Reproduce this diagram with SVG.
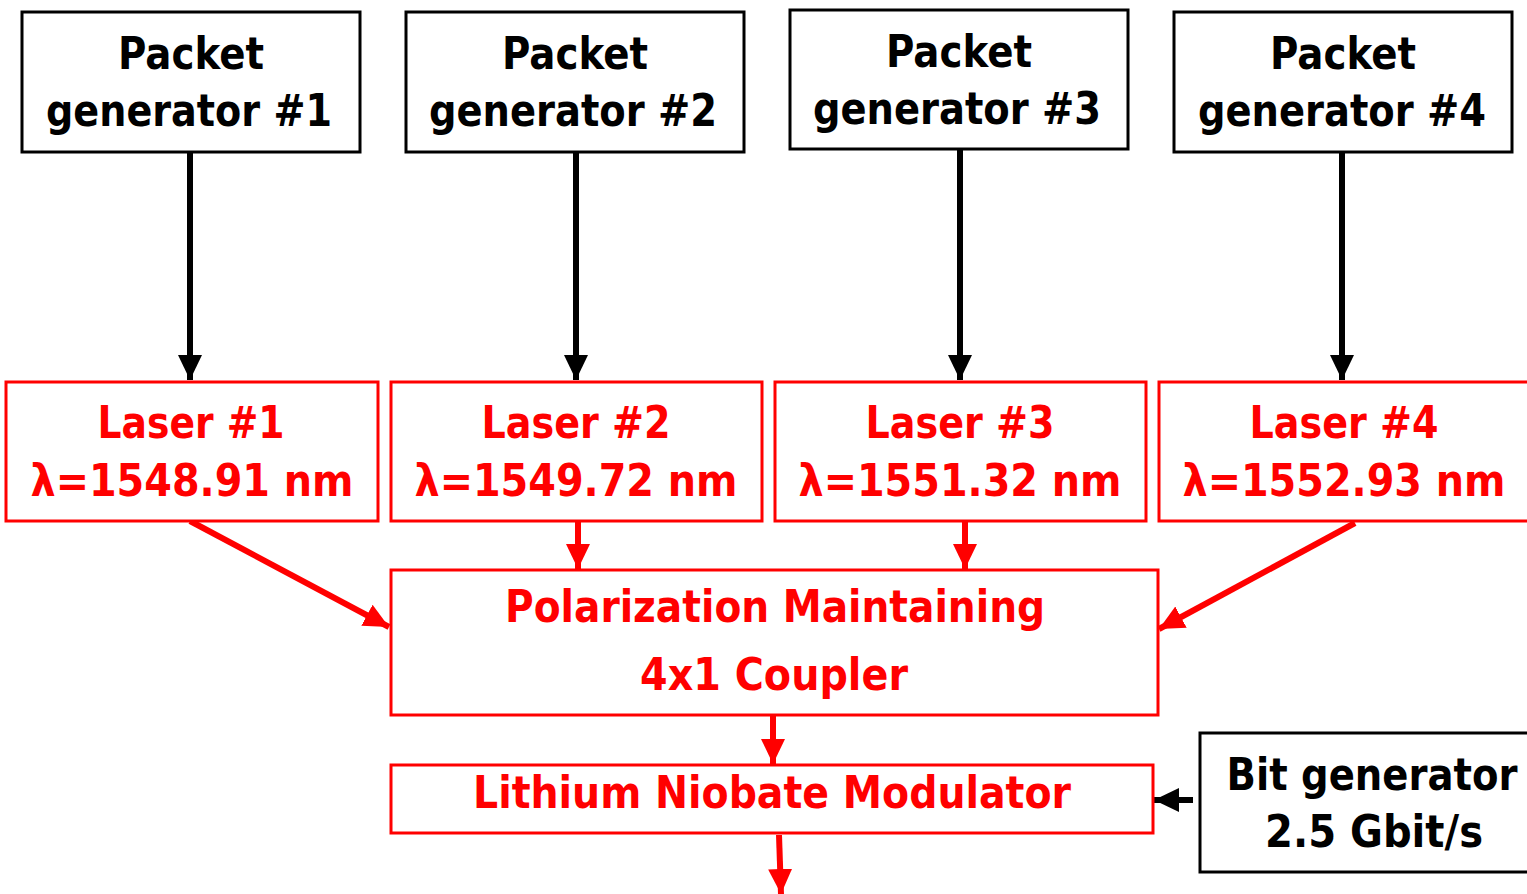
<svg xmlns="http://www.w3.org/2000/svg" width="1527" height="894" viewBox="0 0 1527 894">
  <style>
    .blk { fill: #fff; stroke: #000; stroke-width: 3; }
    .red { fill: #fff; stroke: #f00; stroke-width: 3; }
    text { font-family: "DejaVu Sans", "Liberation Sans", sans-serif; font-weight: bold; font-size: 44px; text-anchor: middle; }
    .tb { fill: #000; }
    .tr { fill: #f00; }
    .cb { stroke: #000; stroke-width: 6; fill: none; marker-end: url(#ab); }
    .cr { stroke: #f00; stroke-width: 6; fill: none; marker-end: url(#ar); }
  </style>
  <defs>
    <marker id="ab" markerUnits="userSpaceOnUse" markerWidth="26" markerHeight="26" viewBox="0 0 26 26" refX="25" refY="13" orient="auto">
      <path d="M0,1 L25,13 L0,25 Z" fill="#000"/>
    </marker>
    <marker id="ar" markerUnits="userSpaceOnUse" markerWidth="26" markerHeight="26" viewBox="0 0 26 26" refX="25" refY="13" orient="auto">
      <path d="M0,1 L25,13 L0,25 Z" fill="#f00"/>
    </marker>
  </defs>

  <g id="connectors">
    <line class="cb" x1="190" y1="152" x2="190" y2="380"/>
    <line class="cb" x1="576" y1="152" x2="576" y2="380"/>
    <line class="cb" x1="960" y1="150" x2="960" y2="380"/>
    <line class="cb" x1="1342" y1="152" x2="1342" y2="380"/>
    <line class="cr" x1="190" y1="521" x2="389" y2="627"/>
    <line class="cr" x1="578" y1="521" x2="578" y2="569"/>
    <line class="cr" x1="965" y1="521" x2="965" y2="569"/>
    <line class="cr" x1="1355" y1="523" x2="1159" y2="629"/>
    <line class="cr" x1="773" y1="715" x2="773" y2="764"/>
    <line class="cr" x1="779" y1="835" x2="781" y2="894"/>
    <line class="cb" x1="1193" y1="800" x2="1154" y2="800"/>
  </g>

  <g id="pg1">
    <rect class="blk" x="22" y="12" width="338" height="140"/>
    <text class="tb" x="191" y="69" textLength="146" lengthAdjust="spacingAndGlyphs">Packet</text>
    <text class="tb" x="189" y="126" textLength="286" lengthAdjust="spacingAndGlyphs">generator #1</text>
  </g>
  <g id="pg2">
    <rect class="blk" x="406" y="12" width="338" height="140"/>
    <text class="tb" x="575" y="69" textLength="146" lengthAdjust="spacingAndGlyphs">Packet</text>
    <text class="tb" x="573" y="126" textLength="288" lengthAdjust="spacingAndGlyphs">generator #2</text>
  </g>
  <g id="pg3">
    <rect class="blk" x="790" y="10" width="338" height="139"/>
    <text class="tb" x="959" y="67" textLength="146" lengthAdjust="spacingAndGlyphs">Packet</text>
    <text class="tb" x="957" y="124" textLength="288" lengthAdjust="spacingAndGlyphs">generator #3</text>
  </g>
  <g id="pg4">
    <rect class="blk" x="1174" y="12" width="338" height="140"/>
    <text class="tb" x="1343" y="69" textLength="146" lengthAdjust="spacingAndGlyphs">Packet</text>
    <text class="tb" x="1342" y="126" textLength="288" lengthAdjust="spacingAndGlyphs">generator #4</text>
  </g>

  <g id="laser1">
    <rect class="red" x="6" y="382" width="372" height="139"/>
    <text class="tr" x="191" y="438" textLength="187" lengthAdjust="spacingAndGlyphs">Laser #1</text>
    <text class="tr" x="192" y="496" textLength="323" lengthAdjust="spacingAndGlyphs">λ=1548.91 nm</text>
  </g>
  <g id="laser2">
    <rect class="red" x="391" y="382" width="371" height="139"/>
    <text class="tr" x="576" y="438" textLength="189" lengthAdjust="spacingAndGlyphs">Laser #2</text>
    <text class="tr" x="576" y="496" textLength="323" lengthAdjust="spacingAndGlyphs">λ=1549.72 nm</text>
  </g>
  <g id="laser3">
    <rect class="red" x="775" y="382" width="371" height="139"/>
    <text class="tr" x="960" y="438" textLength="189" lengthAdjust="spacingAndGlyphs">Laser #3</text>
    <text class="tr" x="960" y="496" textLength="323" lengthAdjust="spacingAndGlyphs">λ=1551.32 nm</text>
  </g>
  <g id="laser4">
    <rect class="red" x="1159" y="382" width="372" height="139"/>
    <text class="tr" x="1344" y="438" textLength="189" lengthAdjust="spacingAndGlyphs">Laser #4</text>
    <text class="tr" x="1344" y="496" textLength="323" lengthAdjust="spacingAndGlyphs">λ=1552.93 nm</text>
  </g>

  <g id="coupler">
    <rect class="red" x="391" y="570" width="767" height="145"/>
    <text class="tr" x="775" y="622" textLength="540" lengthAdjust="spacingAndGlyphs">Polarization Maintaining</text>
    <text class="tr" x="774" y="690" textLength="268" lengthAdjust="spacingAndGlyphs">4x1 Coupler</text>
  </g>

  <g id="modulator">
    <rect class="red" x="391" y="765" width="762" height="68"/>
    <text class="tr" x="772" y="808" textLength="598" lengthAdjust="spacingAndGlyphs">Lithium Niobate Modulator</text>
  </g>

  <g id="bitgen">
    <rect class="blk" x="1200" y="733" width="335" height="139"/>
    <text class="tb" x="1372" y="790" textLength="291" lengthAdjust="spacingAndGlyphs">Bit generator</text>
    <text class="tb" x="1374" y="847" textLength="218" lengthAdjust="spacingAndGlyphs">2.5 Gbit/s</text>
  </g>
</svg>
